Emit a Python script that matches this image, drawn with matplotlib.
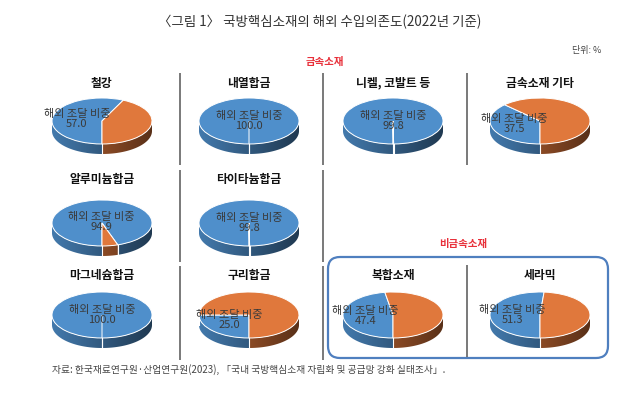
import numpy as np
import matplotlib
matplotlib.use("Agg")
import matplotlib.pyplot as plt
from matplotlib.patches import Polygon, FancyBboxPatch
from matplotlib.colors import to_rgb

plt.rcParams['font.family'] = ['Noto Sans CJK KR', 'DejaVu Sans']

# ---- data ----
categories = ['철강', '내열합금', '니켈, 코발트 등', '금속소재 기타',
              '알루미늄합금', '타이타늄합금',
              '마그네슘합금', '구리합금', '복합소재', '세라믹']
overseas = [57.0, 100.0, 99.8, 37.5,
            94.9, 99.8,
            100.0, 25.0, 47.4, 51.3]
label_text = '해외 조달 비중'
title = '〈그림 1〉 국방핵심소재의 해외 수입의존도(2022년 기준)'
unit = '단위: %'
group_metal = '금속소재'
group_nonmetal = '비금속소재'
source = '자료: 한국재료연구원·산업연구원(2023), 「국내 국방핵심소재 자립화 및 공급망 강화 실태조사」.'

# ---- layout (pixels) ----
W, H = 640, 395
col_x = [102, 249, 393, 540]
row_title_y = [83, 180, 275]
row_pie_y = [121, 223, 315]
cells = [(0, 0), (0, 1), (0, 2), (0, 3),
         (1, 0), (1, 1),
         (2, 0), (2, 1), (2, 2), (2, 3)]
RX, RY, DEP = 50, 23, 10
BLUE = '#4F8FCB'
ORANGE = '#E0783C'

fig = plt.figure(figsize=(W / 100, H / 100), dpi=100)
main = fig.add_axes([0, 0, 1, 1])
main.set_xlim(0, W)
main.set_ylim(H, 0)
main.axis('off')

main.text(320, 22, title, ha='center', va='center', fontsize=9.7, color='#333333')
main.text(601, 50, unit, ha='right', va='center', fontsize=6.5, color='#444444')
main.text(325, 62, group_metal, ha='center', va='center', fontsize=7.5,
          fontweight='bold', color='#E8303A')
main.text(463, 244, group_nonmetal, ha='center', va='center', fontsize=7.5,
          fontweight='bold', color='#E8303A')
main.text(52, 370, source, ha='left', va='center', fontsize=7.0, color='#444444')

# separators
sep_color = '#555555'
for x, segs in [(180, [(73, 165), (170, 262), (266, 360)]),
                (323, [(73, 165), (170, 262), (266, 360)]),
                (467, [(73, 165), (265, 357)])]:
    for y0, y1 in segs:
        main.plot([x, x], [y0, y1], color=sep_color, lw=1.1, solid_capstyle='butt')

box = FancyBboxPatch((328, 257), 280, 101, boxstyle='round,pad=0,rounding_size=12',
                     fill=False, edgecolor='#4F7FBF', lw=1.6)
main.add_patch(box)

dep = DEP / RY


def front_segments(a, b):
    segs = []
    for k in range(-3, 3):
        lo, hi = -180 + 360 * k, 360 * k
        s, e = max(a, lo), min(b, hi)
        if e > s:
            segs.append((s, e))
    return segs


def side_image(ax, color, a, b):
    base = np.array(to_rgb(color))
    xs = np.linspace(0, 1, 256)
    fac = 0.85 - 0.45 * xs
    img = np.clip(base[None, None, :] * fac[None, :, None], 0, 1)
    img = np.repeat(img, 2, axis=0)
    for s, e in front_segments(a, b):
        t = np.radians(np.linspace(s, e, 80))
        top = np.column_stack([np.cos(t), np.sin(t)])
        bot = np.column_stack([np.cos(t), np.sin(t) - dep])[::-1]
        poly = Polygon(np.vstack([top, bot]), closed=True, transform=ax.transData)
        im = ax.imshow(img, extent=(-1, 1, -1 - dep, 1), aspect='auto',
                       interpolation='bilinear', zorder=1)
        im.set_clip_path(poly)


for name, v, (r, c) in zip(categories, overseas, cells):
    cx = col_x[c]
    cy = row_pie_y[r]
    main.text(cx, row_title_y[r], name, ha='center', va='center', fontsize=8.5,
              fontweight='bold', color='#111111')
    w = 2.2 * RX
    h = RY * (2.2 + dep)
    left = cx - 1.1 * RX
    top = cy - 1.1 * RY
    ax = fig.add_axes([left / W, 1 - (top + h) / H, w / W, h / H])
    ax.axis('off')
    vals = [v, 100 - v]
    a_blue = -90 - 3.6 * v
    side_image(ax, BLUE, a_blue, -90)
    if v < 100:
        side_image(ax, ORANGE, -450, a_blue)
    ax.pie(vals, colors=[BLUE, ORANGE], startangle=-90, counterclock=False,
           radius=1, wedgeprops=dict(edgecolor='white', linewidth=0.7, zorder=2))
    for ang in [-90, a_blue]:
        rad = np.radians(ang)
        if np.sin(rad) <= 1e-9:
            ax.plot([np.cos(rad)] * 2, [np.sin(rad), np.sin(rad) - dep],
                    color='white', lw=0.8, zorder=3)
    mid = np.radians(-90 - 1.8 * v)
    lr = min(0.55, 1.2 * (1 - v / 100))
    ax.text(lr * np.cos(mid), 0.6 * lr * np.sin(mid), f'{label_text}\n{v:.1f}',
            ha='center', va='center', fontsize=8, color='#3a3a3a',
            linespacing=1.0, zorder=5, clip_on=False)
    ax.set_aspect('auto')
    ax.set_xlim(-1.1, 1.1)
    ax.set_ylim(-1 - dep - 0.1, 1.1)

fig.savefig('out.png', dpi=100)
